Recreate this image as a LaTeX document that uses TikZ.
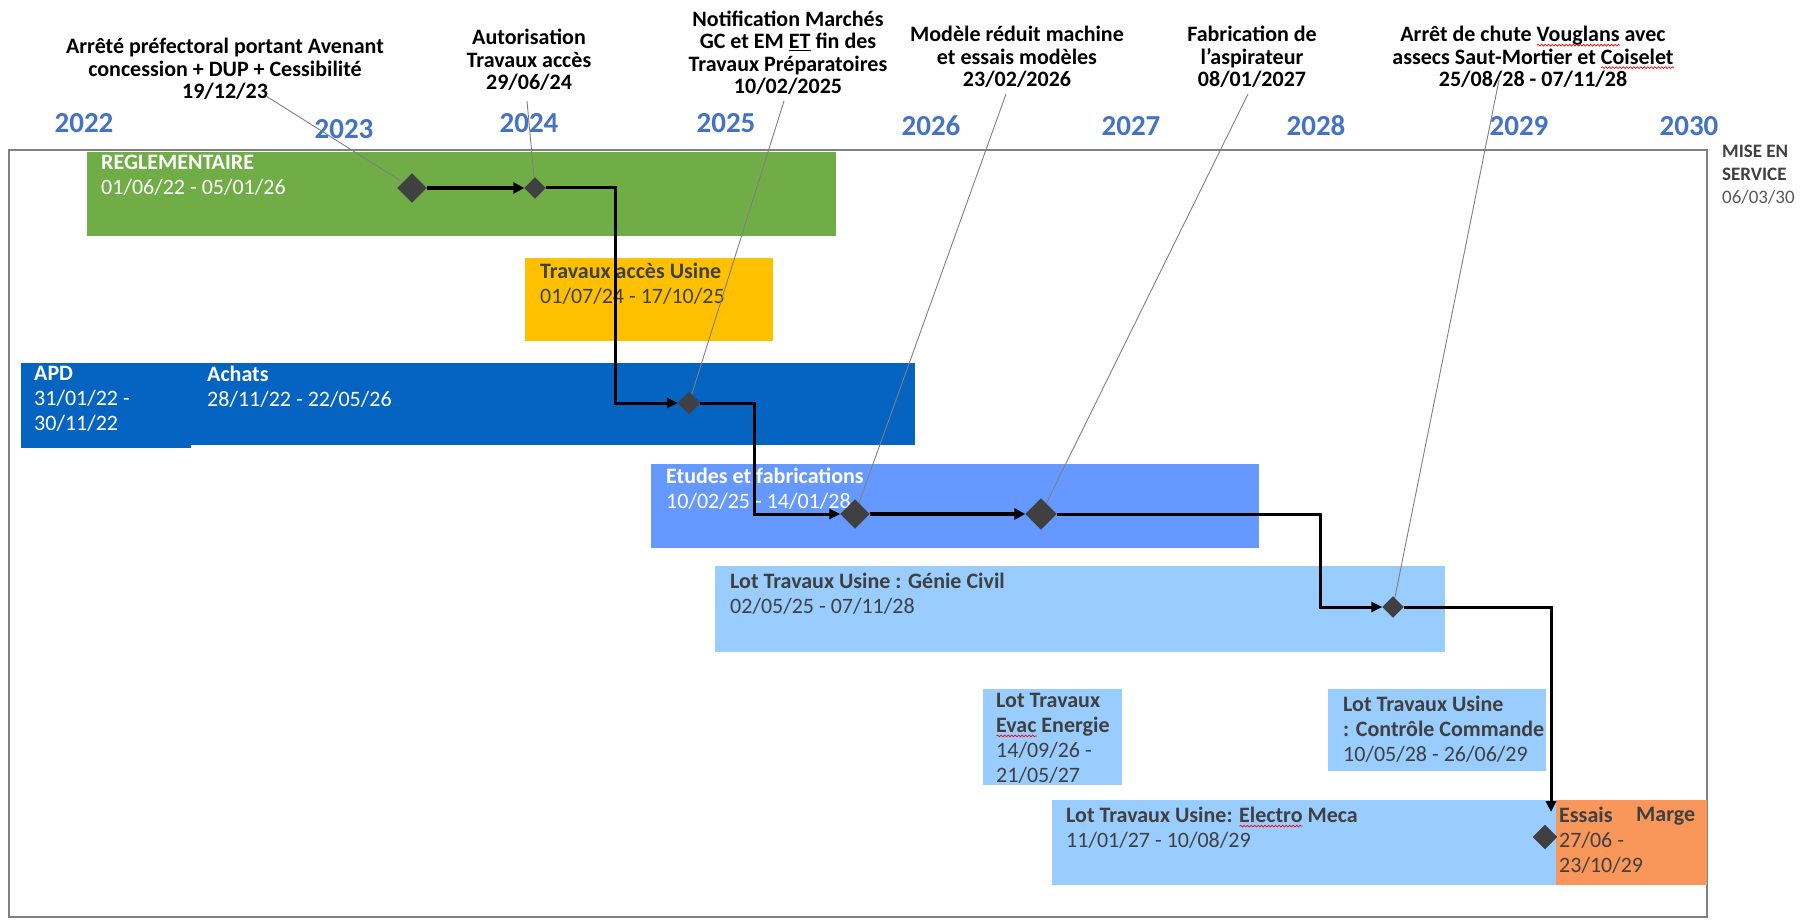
\documentclass[tikz,border=0pt]{standalone}
\usepackage{fontspec}
\setmainfont{Carlito}
\usetikzlibrary{shapes.geometric,arrows.meta,decorations.pathmorphing}
\definecolor{cgreen}{HTML}{70AD47}
\definecolor{cyellow}{HTML}{FFC000}
\definecolor{cblue}{HTML}{0563C1}
\definecolor{cmid}{HTML}{6699FF}
\definecolor{clight}{HTML}{99CCFF}
\definecolor{corange}{HTML}{F9965A}
\definecolor{cyear}{HTML}{4472C4}
\definecolor{cdark}{HTML}{404040}
\definecolor{cgraytxt}{HTML}{595959}
\definecolor{cframe}{HTML}{808080}
\newsavebox\wavebox
\newcommand\redwave[1]{\sbox\wavebox{#1}\rlap{\tikz[baseline=0pt,x=1pt,y=1pt]\draw[red,line width=0.7pt,decorate,decoration={snake,amplitude=0.9pt,segment length=3.5pt}] (0,-3.5) -- (\the\wd\wavebox,-3.5);}\usebox\wavebox}
\begin{document}
\begin{tikzpicture}[x=1pt,y=-1pt,
  bar/.style={rectangle,inner sep=0pt,outer sep=0pt,anchor=north west},
  bartext/.style={anchor=north west,inner sep=0pt,align=left,font=\fontsize{22}{25}\selectfont},
  toplabel/.style={align=center,inner sep=0pt,font=\fontsize{22}{22.5}\selectfont\bfseries},
  year/.style={inner sep=0pt,text=cyear,font=\fontsize{29}{30}\selectfont\bfseries},
  ms/.style={diamond,aspect=1,fill=cdark,inner sep=0pt},
  conn/.style={draw=black,line width=3pt,-{Triangle[length=11pt,width=10pt]}},
  connthick/.style={draw=black,line width=4.5pt,-{Triangle[length=11pt,width=11pt]}},
  callout/.style={draw=cframe,line width=0.9pt}
]
\useasboundingbox (0,0) rectangle (1800,920);
\fill[white] (0,0) rectangle (1800,920);
\draw[cframe,line width=1.5pt] (9,150) rectangle (1707,917);

% years
\node[year] (y22) at (84,123) {2022};
\node[year] (y23) at (344,129) {2023};
\node[year] (y24) at (529,123) {2024};
\node[year] (y25) at (726,123) {2025};
\node[year] (y26) at (931,126) {2026};
\node[year] (y27) at (1131,126) {2027};
\node[year] (y28) at (1316,126) {2028};
\node[year] (y29) at (1519,126) {2029};
\node[year] (y30) at (1689,126) {2030};

% top labels
\node[toplabel] (l1) at (225,69) {Arrêté préfectoral portant Avenant\\concession + DUP + Cessibilité\\19/12/23};
\node[toplabel] (l2) at (529,60) {Autorisation\\Travaux accès\\29/06/24};
\node[toplabel] (l3) at (788,53) {Notification Marchés\\GC et EM \underline{ET} fin des\\Travaux Préparatoires\\10/02/2025};
\node[toplabel] (l4) at (1017,57) {Modèle réduit machine\\et essais modèles\\23/02/2026};
\node[toplabel] (l5) at (1252,57) {Fabrication de\\l'aspirateur\\08/01/2027};
\node[toplabel] (l6) at (1533,57) {Arrêt de chute \redwave{Vouglans} avec\\assecs Saut-Mortier et \redwave{Coiselet}\\25/08/28 - 07/11/28};

% bars
\node[bar,fill=cgreen,minimum width=749pt,minimum height=84pt] (b1) at (87,152) {};
\node[bar,fill=cyellow,minimum width=248pt,minimum height=83pt] (b2) at (525,258) {};
\node[bar,fill=cblue,minimum width=170pt,minimum height=85pt] (b3a) at (21,363) {};
\node[bar,fill=cblue,minimum width=724pt,minimum height=82pt] (b3b) at (191,363) {};
\node[bar,fill=cmid,minimum width=608pt,minimum height=84pt] (b4) at (651,464) {};
\node[bar,fill=clight,minimum width=730pt,minimum height=86pt] (b5) at (715,566) {};
\node[bar,fill=clight,minimum width=139pt,minimum height=96pt] (b6) at (983,689) {};
\node[bar,fill=clight,minimum width=218pt,minimum height=82pt] (b7) at (1328,689) {};
\node[bar,fill=clight,minimum width=506pt,minimum height=85pt] (b8) at (1052,800) {};
\node[bar,fill=corange,minimum width=80pt,minimum height=85pt] (b9a) at (1556,800) {};
\node[bar,fill=corange,minimum width=71pt,minimum height=85pt] (b9b) at (1636,800) {};

% bar texts
\node[bartext,text=white] (t1) at (101,155) {\textbf{REGLEMENTAIRE}\\01/06/22 - 05/01/26};
\node[bartext,text=cdark] (t2) at (540,263) {\textbf{Travaux accès Usine}\\01/07/24 - 17/10/25};
\node[bartext,text=white] (t3a) at (34,366) {\textbf{APD}\\31/01/22 -\\30/11/22};
\node[bartext,text=white] (t3b) at (207,366) {\textbf{Achats}\\28/11/22 - 22/05/26};
\node[bartext,text=white] (t4) at (666,468) {\textbf{Etudes et fabrications}\\10/02/25 - 14/01/28};
\node[bartext,text=cdark] (t5) at (730,573) {\textbf{Lot Travaux Usine : Génie Civil}\\02/05/25 - 07/11/28};
\node[bartext,text=cdark] (t6) at (996,693) {\textbf{Lot Travaux}\\\textbf{\redwave{Evac} Energie}\\14/09/26 -\\21/05/27};
\node[bartext,text=cdark] (t7) at (1343,696) {\textbf{Lot Travaux Usine}\\\textbf{: Contrôle Commande}\\10/05/28 - 26/06/29};
\node[bartext,text=cdark] (t8) at (1066,807) {\textbf{Lot Travaux Usine: \redwave{Electro} Meca}\\11/01/27 - 10/08/29};
\node[bartext,text=cdark] (t9a) at (1559,807) {\textbf{Essais}\\27/06 -\\23/10/29};
\node[bartext,text=cdark] (t9b) at (1636,807) {\textbf{Marge}};

% mise en service
\node[anchor=north west,inner sep=0pt,align=left,font=\fontsize{19}{23}\selectfont] (mes) at (1722,145)
  {\textcolor{cdark}{\textbf{MISE EN}}\\\textcolor{cdark}{\textbf{SERVICE}}\\\textcolor{cgraytxt}{06/03/30}};

% milestones
\node[ms,minimum size=29pt] (m1) at (412,188) {};
\node[ms,minimum size=21pt] (m2) at (535,188) {};
\node[ms,minimum size=22pt] (m3) at (689,403) {};
\node[ms,minimum size=29pt] (m4) at (855,514) {};
\node[ms,minimum size=31pt] (m5) at (1041,514) {};
\node[ms,minimum size=21pt] (m6) at (1393,607) {};
\node[ms,minimum size=24pt] (m7) at (1545,837) {};

% callout anchors
\coordinate (c1) at (266,96);
\coordinate (c2) at (527,101);
\coordinate (c3) at (784,101);
\coordinate (c4) at (1006,94);
\coordinate (c5) at (1248,94);
\coordinate (c6) at (1499,80);
\draw[callout] (c1) -- (m1.center);
\draw[callout] (c2) -- (m2.center);
\draw[callout] (c3) -- (m3.center);
\draw[callout] (c4) -- (m4.center);
\draw[callout] (c5) -- (m5.center);
\draw[callout] (c6) -- (m6.center);

% bends
\coordinate (k1) at (615,188);
\coordinate (k2) at (754,403);
\coordinate (k3) at (1320,514);
\coordinate (k4) at (1551,607);
\coordinate (e7) at (1551,812);

\draw[connthick] (m1) -- (m2);
\draw[conn] (m2) -- (k1) |- (m3);
\draw[conn] (m3) -- (k2) |- (m4);
\draw[connthick] (m4) -- (m5);
\draw[conn] (m5) -- (k3) |- (m6);
\draw[conn] (m6) -- (k4) -- (e7);

% milestones on top of lines
\foreach \n in {m1,m2,m3,m4,m5,m6,m7}{\fill[cdark] (\n.north) -- (\n.east) -- (\n.south) -- (\n.west) -- cycle;}
\end{tikzpicture}
\end{document}
